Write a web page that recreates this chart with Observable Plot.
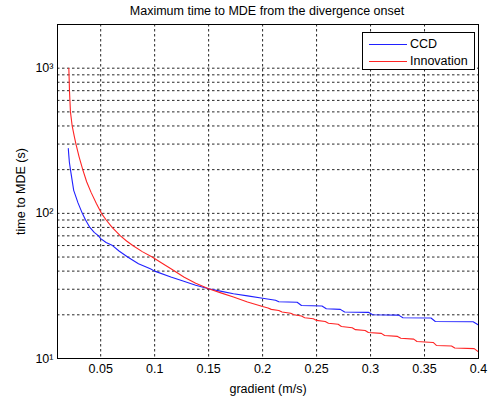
<!DOCTYPE html>
<html>
<head>
<meta charset="utf-8">
<script src="https://cdn.jsdelivr.net/npm/d3@7"></script>
<script src="https://cdn.jsdelivr.net/npm/@observablehq/plot@0.6"></script>
<style>
  body { margin: 0; background: #fff; font-family: "Liberation Sans", Arial, sans-serif; }
  #wrap { position: relative; width: 488px; height: 398px; }
  #title { height: 22px; line-height: 23px; font-size: 12.5px; color: #000; text-align: center; padding-left: 46px; width: 442px; }
  #legend { position: absolute; left: 362px; top: 32px; width: 111px; height: 36px; border: 1px solid #000; background: #fff; font-size: 12.5px; }
  .row { position: absolute; left: 0; height: 15px; line-height: 15px; }
  .sw { position: absolute; left: 6px; width: 38px; height: 1px; top: 7px; }
  .lab { position: absolute; left: 47px; white-space: nowrap; }
</style>
</head>
<body>
<div id="wrap">
  <div id="title"></div>
  <div id="chart"></div>
  <div id="legend"></div>
</div>
<script>
// ---- data ----
const titleText = "Maximum time to MDE from the divergence onset";
const xLabel = "gradient (m/s)";
const yLabel = "time to MDE (s)";
const seriesNames = ["CCD", "Innovation"];
const seriesColors = ["#2020ff", "#ff2424"];

const ccdX = [0.020, 0.0205, 0.021, 0.022, 0.025, 0.029, 0.033, 0.036, 0.040, 0.044, 0.048, 0.050, 0.055, 0.061, 0.067, 0.075, 0.085, 0.096, 0.100, 0.115, 0.127, 0.138, 0.150, 0.162, 0.173, 0.186, 0.200, 0.212, 0.215, 0.232, 0.236, 0.255, 0.259, 0.272, 0.276, 0.298, 0.302, 0.326, 0.330, 0.356, 0.360, 0.395, 0.400];
const ccdY = [280, 250, 225, 200, 144, 118, 100, 90, 80, 74, 70, 67, 63, 60, 55, 50, 45, 41.5, 40, 36.4, 34.1, 32, 30.2, 29, 27.9, 27.0, 26.0, 25.2, 24.6, 24.4, 23.2, 23.0, 22.0, 21.8, 20.9, 20.8, 20.0, 19.9, 19.1, 19.0, 18.0, 17.9, 17.0];

const innoX = [0.0205, 0.0208, 0.0211, 0.0215, 0.022, 0.0236, 0.0255, 0.0271, 0.030, 0.0334, 0.037, 0.041, 0.046, 0.0507, 0.0551, 0.0606, 0.0683, 0.0740, 0.0797, 0.0885, 0.0977, 0.1065, 0.1162, 0.127, 0.138, 0.150, 0.162, 0.173, 0.186, 0.200, 0.205, 0.208, 0.215, 0.218, 0.226, 0.229, 0.236, 0.239, 0.247, 0.250, 0.258, 0.261, 0.270, 0.273, 0.283, 0.286, 0.295, 0.298, 0.310, 0.313, 0.325, 0.328, 0.340, 0.343, 0.358, 0.361, 0.375, 0.378, 0.396, 0.400];
const innoY = [1000, 850, 700, 600, 500, 400, 340, 300, 245, 200, 165, 140, 117, 100, 90, 80, 70, 64.5, 60, 54.5, 50, 45.5, 41, 36.4, 33, 30.2, 28.2, 26.5, 24.5, 22.8, 22.3, 21.8, 21.4, 20.9, 20.5, 20.0, 19.6, 19.1, 18.8, 18.3, 18.0, 17.5, 17.2, 16.6, 16.3, 15.8, 15.6, 15.1, 14.9, 14.4, 14.2, 13.8, 13.6, 13.1, 12.9, 12.3, 12.2, 11.8, 11.7, 11.1];

const xTicks = [0.05, 0.1, 0.15, 0.2, 0.25, 0.3, 0.35, 0.4];
const xGrid = [0.05, 0.1, 0.15, 0.2, 0.25, 0.3, 0.35];
const yTicks = [10, 100, 1000];
const yGrid = [20, 30, 40, 50, 60, 70, 80, 90, 100, 200, 300, 400, 500, 600, 700, 800, 900, 1000];
const xDomain = [0.01, 0.4];
const yDomain = [10, 2000];

// ---- build ----
const data = [
  ...ccdX.map((x, i) => ({x, y: ccdY[i], s: seriesNames[0]})),
  ...innoX.map((x, i) => ({x, y: innoY[i], s: seriesNames[1]}))
];
const sup = {"1": "\u00b9", "2": "\u00b2", "3": "\u00b3"};

document.getElementById("title").textContent = titleText;

const chart = Plot.plot({
  width: 488,
  height: 376,
  marginTop: 2,
  marginBottom: 40,
  marginLeft: 57,
  marginRight: 10,
  style: {fontFamily: "'Liberation Sans', Arial, sans-serif", fontSize: "12.5px", color: "#000", background: "#fff"},
  x: {domain: xDomain, label: null},
  y: {type: "log", domain: yDomain, label: null},
  color: {domain: seriesNames, range: seriesColors},
  marks: [
    Plot.ruleY(yGrid, {stroke: "#111", strokeWidth: 1, strokeDasharray: "2.5,2.5", strokeOpacity: 0.9}),
    Plot.ruleX(xGrid, {stroke: "#111", strokeWidth: 1, strokeDasharray: "2.5,2.5", strokeOpacity: 0.9}),
    Plot.line(data, {x: "x", y: "y", z: "s", stroke: "s", strokeWidth: 1.1}),
    Plot.frame({stroke: "#000", strokeWidth: 1}),
    Plot.axisX(xTicks, {tickSize: 0, tickPadding: 6, tickFormat: d => String(+d.toFixed(2)), fontSize: 12.5,
      label: xLabel, labelAnchor: "center", labelOffset: 34, labelArrow: "none"}),
    Plot.axisY(yTicks, {tickSize: 0, tickPadding: 4, tickFormat: d => "10" + sup[String(Math.round(Math.log10(d)))], fontSize: 12.5,
      label: yLabel, labelAnchor: "center", labelOffset: 41, labelArrow: "none"})
  ]
});
document.getElementById("chart").appendChild(chart);

const leg = document.getElementById("legend");
seriesNames.forEach((name, i) => {
  const row = document.createElement("div");
  row.className = "row";
  row.style.top = (4 + i * 17) + "px";
  row.style.width = "111px";
  const sw = document.createElement("div");
  sw.className = "sw";
  sw.style.background = seriesColors[i];
  const lab = document.createElement("div");
  lab.className = "lab";
  lab.textContent = name;
  row.appendChild(sw);
  row.appendChild(lab);
  leg.appendChild(row);
});
</script>
</body>
</html>
